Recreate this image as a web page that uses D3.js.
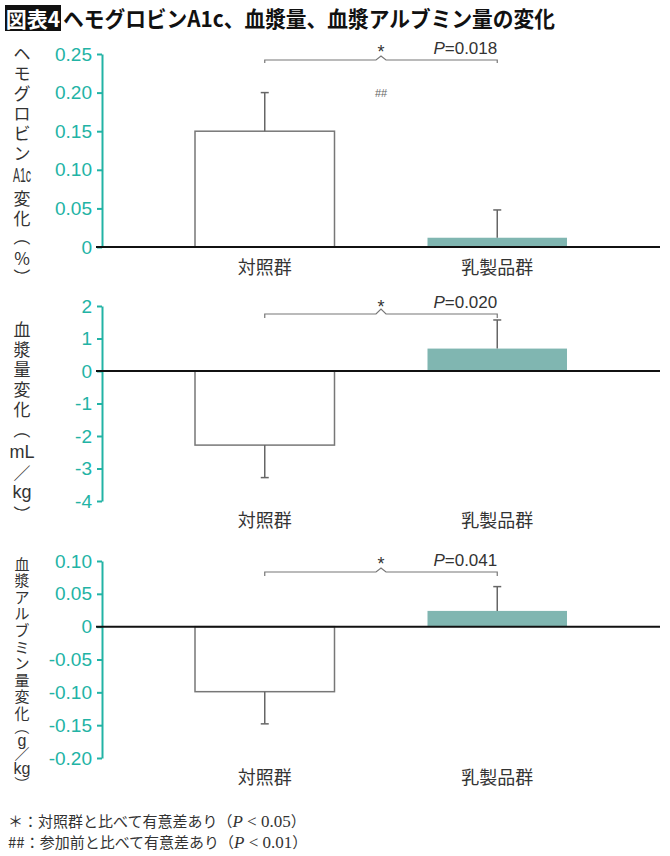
<!DOCTYPE html>
<html>
<head>
<meta charset="utf-8">
<script src="https://cdn.jsdelivr.net/npm/d3@7"></script>
<style>
  body { margin: 0; background: #fff; }
</style>
</head>
<body>
<div id="chart"></div>
<script>
// data
var groups = ["対照群", "乳製品群"];

var hba1cMean = [0.150, 0.012];
var hba1cErr = [0.050, 0.036];
var hba1cTicks = [0, 0.05, 0.10, 0.15, 0.20, 0.25];

var plasmaMean = [-2.28, 0.69];
var plasmaErr = [1.00, 0.88];
var plasmaTicks = [-4, -3, -2, -1, 0, 1, 2];

var albuminMean = [-0.099, 0.024];
var albuminErr = [0.049, 0.037];
var albuminTicks = [-0.20, -0.15, -0.10, -0.05, 0, 0.05, 0.10];

var pValues = ["0.018", "0.020", "0.041"];
var hashMarks = ["##", "", ""];

var titleTag = "図表4";
var titleText = "ヘモグロビンA1c、血漿量、血漿アルブミン量の変化";
var footnotes = [
    ["＊：対照群と比べて有意差あり（", "0.05", "）"],
    ["##：参加前と比べて有意差あり（", "0.01", "）"]
];

// vertical axis titles, one entry per cell: [text, kind, advance]
// kind: c = cjk, w = latin word, p = paren turned for vertical writing
var label1 = [["ヘ","c",1],["モ","c",1],["グ","c",1],["ロ","c",1],["ビ","c",1],["ン","c",1],
              ["A1c","w",1.25],["変","c",1],["化","c",1],["（","p",1],["%","c",1],["）","p",1]];
var label2 = [["血","c",1],["漿","c",1],["量","c",1],["変","c",1],["化","c",1],["（","p",1.2],
              ["mL","w",1],["／","c",1],["kg","w",1],["）","p",1.2]];
var label3 = [["血","c",1],["漿","c",1],["ア","c",1],["ル","c",1],["ブ","c",1],["ミ","c",1],["ン","c",1],
              ["量","c",1],["変","c",1],["化","c",1],["（","p",0.8],["g","w",0.8],["／","c",0.8],
              ["kg","w",1],["）","p",0.8]];

var teal = "#22b3a5";
var ink = "#333";
var cjk = "'Noto Sans CJK JP', sans-serif";
var latin = "'Liberation Sans', Arial, sans-serif";
var serif = "'Liberation Serif', serif";

var width = 670, height = 856;
var svg = d3.select("#chart").append("svg")
    .attr("width", width)
    .attr("height", height);

// title
svg.append("rect").attr("x", 5).attr("y", 5).attr("width", 56).attr("height", 26).attr("fill", "#111");
svg.append("text").attr("x", 33).attr("y", 26.5).attr("text-anchor", "middle")
    .style("font-family", cjk).style("font-weight", 700).style("font-size", "21px")
    .attr("fill", "#fff").text(titleTag);
svg.append("text").attr("x", 63).attr("y", 26.5)
    .attr("textLength", 492).attr("lengthAdjust", "spacingAndGlyphs")
    .style("font-family", cjk).style("font-weight", 700).style("font-size", "22px")
    .attr("fill", "#111").text(titleText);

var x = d3.scaleBand().domain(groups).range([102, 660]).padding(0.4);

var panels = [
    { mean: hba1cMean, err: hba1cErr, ticks: hba1cTicks, label: label1,
      top: 54, bottom: 247, bracketY: 60, peak: 4, drop: 3, pBase: 54, star: 48, hash: 93,
      catY: 274, labStart: 42, labStep: 20, labFont: 17 },
    { mean: plasmaMean, err: plasmaErr, ticks: plasmaTicks, label: label2,
      top: 306, bottom: 501, bracketY: 314, peak: 5, drop: 4, pBase: 308, star: 303, hash: 0,
      catY: 527, labStart: 318, labStep: 20, labFont: 17 },
    { mean: albuminMean, err: albuminErr, ticks: albuminTicks, label: label3,
      top: 561, bottom: 758, bracketY: 572, peak: 4, drop: 4, pBase: 566, star: 560, hash: 0,
      catY: 784, labStart: 554.7, labStep: 16.6, labFont: 15 }
];

function tickFmt(v) {
    if (v === 0) return "0";
    var s = Number.isInteger(v) ? d3.format("d")(v) : d3.format(".2f")(v);
    return s.replace("\u2212", "-");
}

panels.forEach(function(p, i) {
    var y = d3.scaleLinear().domain(d3.extent(p.ticks)).range([p.bottom, p.top]);
    var g = svg.append("g");

    // bars
    g.selectAll("rect.bar")
        .data(groups)
        .enter().append("rect")
        .attr("class", "bar")
        .attr("x", function(d) { return x(d); })
        .attr("width", x.bandwidth())
        .attr("y", function(d, j) { return Math.min(y(p.mean[j]), y(0)); })
        .attr("height", function(d, j) { return Math.abs(y(p.mean[j]) - y(0)); })
        .attr("fill", function(d, j) { return j === 0 ? "#fff" : "#80b6b1"; })
        .attr("stroke", function(d, j) { return j === 0 ? "#777" : "none"; })
        .attr("stroke-width", 1.5);

    // error bars
    groups.forEach(function(d, j) {
        var cx = x(d) + x.bandwidth() / 2;
        var m = p.mean[j];
        var e = m >= 0 ? m + p.err[j] : m - p.err[j];
        g.append("line").attr("x1", cx).attr("x2", cx).attr("y1", y(m)).attr("y2", y(e))
            .attr("stroke", "#666").attr("stroke-width", 1.5);
        g.append("line").attr("x1", cx - 4).attr("x2", cx + 4).attr("y1", y(e)).attr("y2", y(e))
            .attr("stroke", "#666").attr("stroke-width", 1.5);
    });

    // axis
    var axis = g.append("g")
        .attr("transform", "translate(102,0)")
        .call(d3.axisLeft(y).tickValues(p.ticks).tickSize(5).tickSizeOuter(0).tickPadding(5).tickFormat(tickFmt));
    axis.select(".domain").attr("stroke", teal).attr("stroke-width", 2);
    axis.selectAll(".tick line").attr("stroke", teal).attr("stroke-width", 2);
    axis.selectAll(".tick text").attr("fill", teal)
        .style("font-family", latin).style("font-size", "19px");

    // zero line
    g.append("line").attr("x1", 96).attr("x2", 660).attr("y1", y(0)).attr("y2", y(0))
        .attr("stroke", "#111").attr("stroke-width", 2);

    // category labels
    g.selectAll("text.cat")
        .data(groups)
        .enter().append("text")
        .attr("class", "cat")
        .attr("x", function(d) { return x(d) + x.bandwidth() / 2; })
        .attr("y", p.catY)
        .attr("text-anchor", "middle")
        .style("font-family", cjk).style("font-size", "18px")
        .attr("fill", ink)
        .text(function(d) { return d; });

    // significance bracket
    var x0 = x(groups[0]) + x.bandwidth() / 2;
    var x1 = x(groups[1]) + x.bandwidth() / 2;
    var xm = (x0 + x1) / 2;
    var by = p.bracketY;
    g.append("path")
        .attr("d", "M" + x0 + "," + (by + p.drop) + "V" + by + "H" + (xm - 5) +
                   "L" + xm + "," + (by - p.peak) + "L" + (xm + 5) + "," + by +
                   "H" + x1 + "V" + (by + p.drop))
        .attr("fill", "none").attr("stroke", "#777").attr("stroke-width", 1.2);
    g.append("text").attr("x", xm).attr("y", p.star + 10).attr("text-anchor", "middle")
        .style("font-family", latin).style("font-size", "18px").attr("fill", ink).text("*");
    var pt = g.append("text").attr("x", x1).attr("y", p.pBase).attr("text-anchor", "end")
        .style("font-family", latin).style("font-size", "17px").attr("fill", ink);
    pt.append("tspan").style("font-style", "italic").text("P");
    pt.append("tspan").text("=" + pValues[i]);
    if (hashMarks[i]) {
        g.append("text").attr("x", xm).attr("y", p.hash + 4).attr("text-anchor", "middle")
            .style("font-family", latin).style("font-size", "11px").attr("fill", "#666").text(hashMarks[i]);
    }

    // vertical axis title
    var pos = p.labStart;
    p.label.forEach(function(c) {
        var adv = c[2] * p.labStep;
        var cy = pos + adv / 2;
        pos += adv;
        var t = g.append("text")
            .attr("x", 22).attr("y", cy)
            .attr("text-anchor", "middle")
            .attr("dominant-baseline", "central")
            .attr("fill", ink)
            .style("font-size", p.labFont + "px")
            .text(c[0]);
        if (c[1] === "w") {
            t.style("font-family", latin);
            if (c[0] === "A1c") {
                t.style("font-size", "21px").attr("textLength", 18).attr("lengthAdjust", "spacingAndGlyphs");
            } else {
                t.style("font-size", (p.labFont + 1) + "px");
            }
        } else {
            t.style("font-family", cjk);
        }
        if (c[1] === "p") {
            t.attr("transform", "rotate(90,22," + cy + ")");
        }
    });
});

// footnotes
footnotes.forEach(function(f, i) {
    var t = svg.append("text").attr("x", 8).attr("y", 827 + i * 21)
        .style("font-size", "15px").attr("fill", ink);
    t.append("tspan").style("font-family", cjk).text(f[0]);
    t.append("tspan").style("font-family", serif).style("font-size", "17px").style("font-style", "italic").text("P");
    t.append("tspan").style("font-family", serif).style("font-size", "17px").text(" < " + f[1]);
    t.append("tspan").style("font-family", cjk).text(f[2]);
});
</script>
</body>
</html>
